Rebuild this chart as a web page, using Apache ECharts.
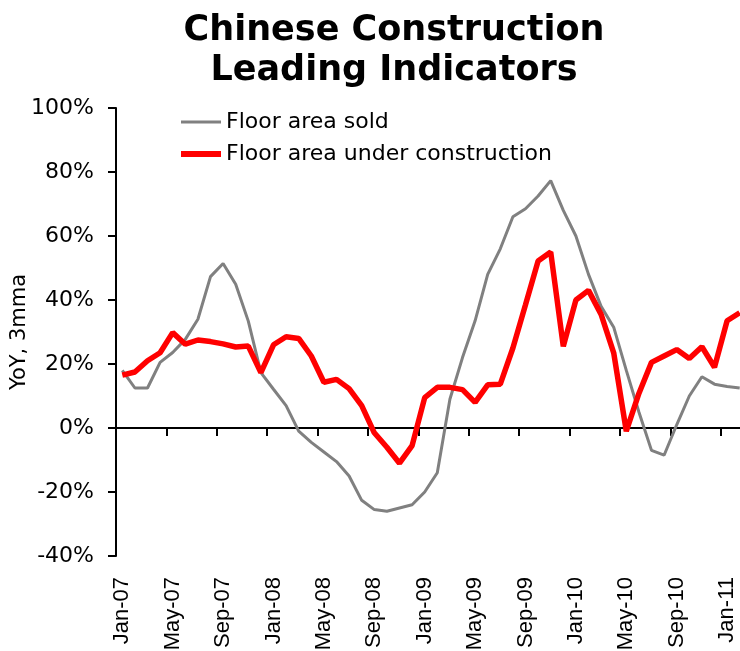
<!DOCTYPE html>
<html>
<head>
<meta charset="utf-8">
<script src="https://cdn.jsdelivr.net/npm/echarts@6/dist/echarts.min.js"></script>
<style>
  html, body { margin: 0; padding: 0; background: #fff; }
  #main { width: 740px; height: 651px; }
</style>
</head>
<body>
<div id="main"></div>
<script>
// months Jan-07 .. Feb-11
var months = [
  'Jan-07','Feb-07','Mar-07','Apr-07','May-07','Jun-07','Jul-07','Aug-07','Sep-07','Oct-07','Nov-07','Dec-07',
  'Jan-08','Feb-08','Mar-08','Apr-08','May-08','Jun-08','Jul-08','Aug-08','Sep-08','Oct-08','Nov-08','Dec-08',
  'Jan-09','Feb-09','Mar-09','Apr-09','May-09','Jun-09','Jul-09','Aug-09','Sep-09','Oct-09','Nov-09','Dec-09',
  'Jan-10','Feb-10','Mar-10','Apr-10','May-10','Jun-10','Jul-10','Aug-10','Sep-10','Oct-10','Nov-10','Dec-10',
  'Jan-11','Feb-11'
];

// YoY %, 3mma
var floorSold = [
  18, 12.5, 12.5, 20.5, 23.6, 27.7, 34, 47.3, 51.4, 44.9, 33.4, 17.3,
  12.1, 7, -1, -4.5, -7.5, -10.5, -15, -22.6, -25.5, -26, -25, -24,
  -20, -14, 9, 22, 33.5, 48, 56, 66, 68.5, 72.5, 77.3, 68,
  60, 48, 38, 31.5, 18, 5, -7, -8.5, 1, 10, 16, 13.7,
  13, 12.5
];
var floorUnderConstr = [
  16.5, 17.5, 21, 23.5, 29.8, 26.2, 27.5, 27, 26.3, 25.3, 25.6, 17.3,
  26, 28.5, 28, 22.5, 14.3, 15.2, 12.3, 7, -1.5, -6, -11, -5.5,
  9.5, 12.7, 12.7, 12, 8, 13.5, 13.7, 25, 38.5, 52.2, 55, 25.5,
  40, 43, 35.5, 23.5, -1, 10.8, 20.5, 22.5, 24.5, 21.7, 25.4, 19,
  33.5, 36
];

var yTicks = [-40, -20, 0, 20, 40, 60, 80, 100];

var chart = echarts.init(document.getElementById('main'), null, {renderer: 'canvas'});
var font = 'DejaVu Sans';

var option = {
  backgroundColor: '#fff',
  animation: false,
  title: {
    text: 'Chinese Construction\nLeading Indicators',
    left: 389,
    top: 6,
    textAlign: 'center',
    textStyle: {
      fontFamily: font,
      fontWeight: 'bold',
      fontSize: 35,
      lineHeight: 40,
      color: '#000'
    }
  },
  legend: {
    orient: 'vertical',
    left: 178,
    top: 111,
    padding: 0,
    itemWidth: 40,
    itemHeight: 14,
    itemGap: 10,
    itemStyle: { opacity: 0 },
    textStyle: { fontFamily: font, fontSize: 22, lineHeight: 22, color: '#000' },
    data: [
      { name: 'Floor area sold', lineStyle: { width: 3 } },
      { name: 'Floor area under construction', lineStyle: { width: 6 } }
    ]
  },
  grid: {
    left: 116,
    top: 108,
    bottom: 95,
    right: -6,
    outerBoundsMode: 'none'
  },
  xAxis: [{
    type: 'category',
    data: months,
    boundaryGap: true,
    position: 'bottom',
    axisLine: { onZero: true, lineStyle: { color: '#000', width: 2 } },
    axisTick: { show: true, interval: 3, length: 8, lineStyle: { color: '#000', width: 2 } },
    axisLabel: { show: false },
    splitLine: { show: false }
  }, {
    type: 'category',
    data: months,
    boundaryGap: true,
    position: 'bottom',
    axisLine: { show: false, onZero: false },
    axisTick: { show: false },
    axisLabel: {
      interval: 3,
      rotate: 90,
      margin: 21,
      fontFamily: 'Liberation Sans',
      fontSize: 22,
      color: '#000'
    },
    splitLine: { show: false }
  }],
  yAxis: {
    type: 'value',
    min: -40,
    max: 100,
    interval: 20,
    name: 'YoY, 3mma',
    nameLocation: 'middle',
    nameGap: 86,
    nameMoveOverlap: false,
    nameTextStyle: { fontFamily: font, fontSize: 21, color: '#000' },
    axisLine: { show: true, onZero: false, lineStyle: { color: '#000', width: 2 } },
    axisTick: { show: true, length: 8, lineStyle: { color: '#000', width: 2 } },
    axisLabel: {
      margin: 22,
      fontFamily: font,
      fontSize: 22,
      color: '#000',
      formatter: function (v) { return yTicks.indexOf(v) >= 0 ? v + '%' : ''; }
    },
    splitLine: { show: false }
  },
  series: [{
    name: 'Floor area sold',
    type: 'line',
    xAxisIndex: 0,
    data: floorSold,
    symbol: 'none',
    color: '#808080',
    lineStyle: { color: '#808080', width: 3 }
  }, {
    name: 'Floor area under construction',
    type: 'line',
    xAxisIndex: 0,
    data: floorUnderConstr,
    symbol: 'none',
    color: '#ff0000',
    lineStyle: { color: '#ff0000', width: 5.5 }
  }]
};
chart.setOption(option);
</script>
</body>
</html>
